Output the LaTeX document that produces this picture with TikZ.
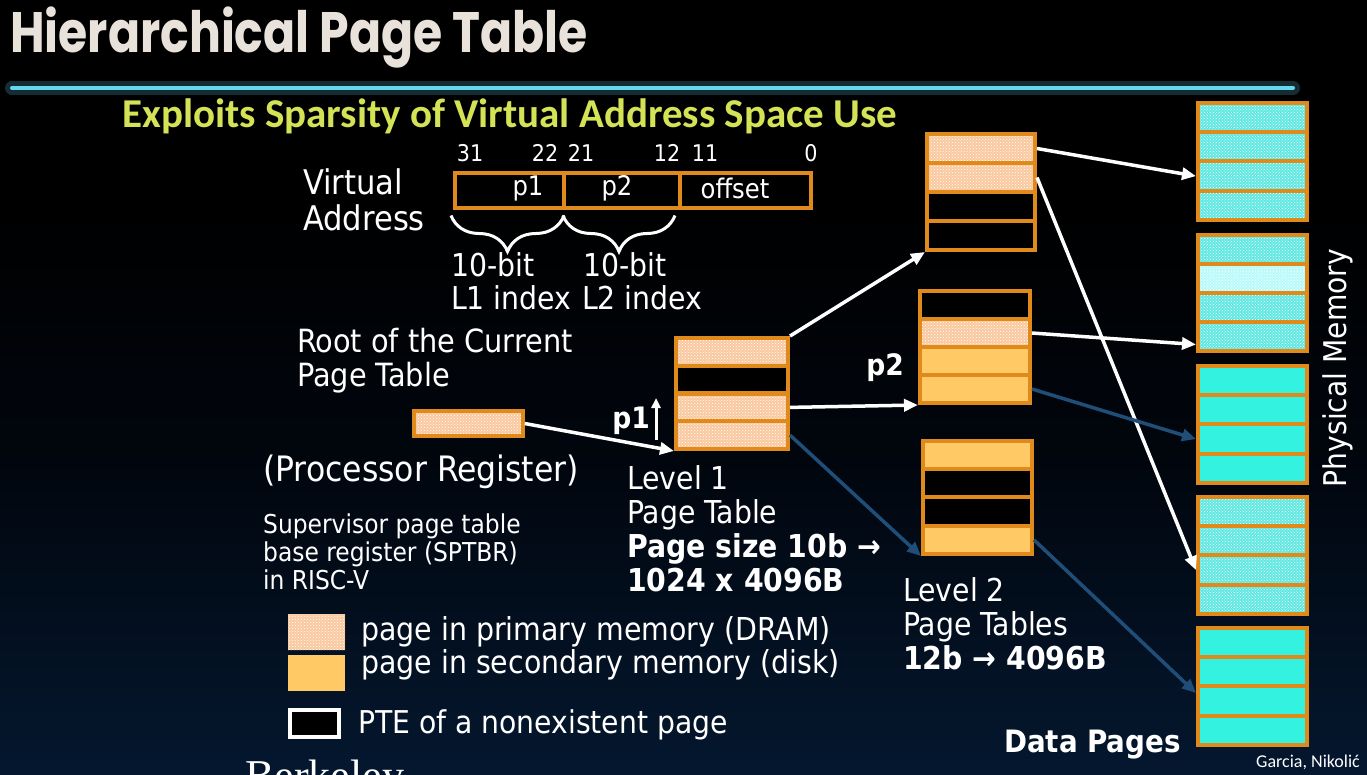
\documentclass[tikz,border=0pt]{standalone}
\usepackage{fontspec}
\setmainfont{DejaVu Sans Condensed}
\newfontfamily\titlefont{Poppins}[FakeStretch=0.83]
\newfontfamily\subfont{Carlito}
\newfontfamily\logofont{Liberation Serif}
\usetikzlibrary{arrows.meta,patterns,decorations.pathreplacing}

\newcommand\fsz[2]{\fontsize{#1}{#2}\selectfont}

\definecolor{navybot}{RGB}{11,46,86}
\definecolor{navymid}{RGB}{5,26,52}
\definecolor{navytop}{RGB}{1,6,14}
\definecolor{titlecol}{RGB}{232,226,218}
\definecolor{subcol}{RGB}{212,226,86}
\definecolor{rulecyan}{RGB}{100,216,240}
\definecolor{tborder}{RGB}{224,138,28}
\definecolor{dramcol}{RGB}{250,200,158}
\definecolor{diskcol}{RGB}{255,202,102}
\definecolor{pmcol}{RGB}{96,232,226}
\definecolor{pmlitecol}{RGB}{184,250,250}
\definecolor{pmsolidcol}{RGB}{52,242,224}
\definecolor{ptrblue}{RGB}{31,78,121}

\pgfdeclareverticalshading{slidebg}{100bp}{color(0bp)=(navybot); color(22bp)=(navymid); color(45bp)=(navytop); color(62bp)=(black); color(100bp)=(black)}

\tikzset{
  pte/.style={draw=tborder, line width=4, inner sep=0, minimum height=28},
  dram/.style={preaction={fill=dramcol}, pattern=crosshatch dots, pattern color=white},
  disk/.style={fill=diskcol},
  none/.style={fill=black},
  pmpat/.style={preaction={fill=pmcol}, pattern=crosshatch dots, pattern color=white},
  pmlite/.style={preaction={fill=pmlitecol}, pattern=crosshatch dots, pattern color=white},
  pmsolid/.style={fill=pmsolidcol},
  txt/.style={text=white, inner sep=0, anchor=west, align=left},
  bit/.style={text=white, inner sep=0, font={\fsz{23}{25}}},
  ptr/.style={white, line width=3.5, -{Triangle[length=14pt,width=12pt]}},
  diskptr/.style={ptrblue, line width=3.5, -{Triangle[length=14pt,width=12pt]}},
  bracket/.style={white, line width=3, decorate, decoration={brace, amplitude=36pt, mirror}}
}

\begin{document}
\begin{tikzpicture}[x=1pt,y=-1pt]
\useasboundingbox (0,0) rectangle (1367,774);
\clip (0,0) rectangle (1367,774);
\shade[shading=slidebg] (0,0) rectangle (1367,774);

% title
\node[anchor=base west, inner sep=0, text=titlecol, font={\titlefont\bfseries\fsz{57}{60}}] (title) at (10,52) {Hierarchical Page Table};
\draw[line width=14, rulecyan!35!black, line cap=round, opacity=.6] (12,88) -- (1293,88);
\draw[line width=4, rulecyan, line cap=round] (12,88) -- (1293,88);
\node[txt, text=subcol, font={\subfont\bfseries\fsz{41}{44}}] (subtitle) at (122,116) {Exploits Sparsity of Virtual Address Space Use};

% virtual address
\node[txt, font={\fsz{34}{36}}] (va) at (303,200) {Virtual\\Address};
\node[bit] (b31) at (470,153) {31};
\node[bit] (b22) at (545,153) {22};
\node[bit] (b21) at (581,153) {21};
\node[bit] (b12) at (667,153) {12};
\node[bit] (b11) at (705,153) {11};
\node[bit] (b0) at (811,153) {0};
\node[pte, minimum width=109, minimum height=35] (fp1) at (509.5,190) {};
\node[pte, minimum width=116, minimum height=35] (fp2) at (622,190) {};
\node[pte, minimum width=131, minimum height=35] (foff) at (745.5,190) {};
\node[text=white, font={\fsz{27}{29}}] (tp1) at (528,188) {p1};
\node[text=white, font={\fsz{27}{29}}] (tp2) at (617,188) {p2};
\node[text=white, font={\fsz{27}{29}}] (toff) at (735,188) {offset};
\draw[bracket] (fp1.south west) ++(-2,6) -- ++(113,0);
\draw[bracket] (fp2.south west) ++(1,6) -- ++(112,0);
\node[txt, font={\fsz{31.5}{34}}] (l1bits) at (451,265) {10-bit};
\node[txt, font={\fsz{31.5}{34}}] (l1idx) at (451,298) {L1 index};
\node[txt, font={\fsz{31.5}{34}}] (l2bits) at (583,265) {10-bit};
\node[txt, font={\fsz{31.5}{34}}] (l2idx) at (582,298) {L2 index};

% root register
\node[txt, font={\fsz{32}{34}}] (root) at (297,361) {Root of the Current\\Page Table};
\node[pte, dram, line width=3.5, minimum width=109, minimum height=25] (sptbr) at (468.5,423.5) {};
\node[txt, font={\fsz{35}{36}}] (procreg) at (263,472) {(Processor Register)};
\node[txt, font={\fsz{26}{28}}] (super) at (263,552) {Supervisor page table\\base register (SPTBR)\\in RISC-V};

% level 1 table
\node[pte, dram, minimum width=112, minimum height=27.75] (l1a) at (732,351.9) {};
\node[pte, none, minimum width=112, minimum height=27.75] (l1b) at (732,379.6) {};
\node[pte, dram, minimum width=112, minimum height=27.75] (l1c) at (732,407.4) {};
\node[pte, dram, minimum width=112, minimum height=27.75] (l1d) at (732,435.1) {};
\node[text=white, inner sep=0, font={\bfseries\fsz{29.5}{30}}] (p1) at (631,421) {p1};
\coordinate (p1lo) at (656,440);
\coordinate (p1hi) at (656,398);
\draw[white, line width=3, -{Triangle[length=10pt,width=9pt]}] (p1lo) -- (p1hi);
\node[txt, font={\fsz{31.5}{34}}] (l1txt) at (627,529) {Level 1\\Page Table\\\textbf{Page size 10b →}\\\textbf{1024 x 4096B}};

% level 2 tables
\node[pte, dram, minimum width=108, minimum height=29] (l2aA) at (981,148.5) {};
\node[pte, dram, minimum width=108, minimum height=29] (l2aB) at (981,177.5) {};
\node[pte, none, minimum width=108, minimum height=29] (l2aC) at (981,206.5) {};
\node[pte, none, minimum width=108, minimum height=29] (l2aD) at (981,235.5) {};

\node[pte, none, minimum width=110] (l2bA) at (975,305) {};
\node[pte, dram, minimum width=110] (l2bB) at (975,333) {};
\node[pte, disk, minimum width=110] (l2bC) at (975,361) {};
\node[pte, disk, minimum width=110] (l2bD) at (975,389) {};

\node[pte, disk, minimum width=109, minimum height=28.25] (l2cA) at (977.5,455.1) {};
\node[pte, none, minimum width=109, minimum height=28.25] (l2cB) at (977.5,483.4) {};
\node[pte, none, minimum width=109, minimum height=28.25] (l2cC) at (977.5,511.6) {};
\node[pte, disk, minimum width=109, minimum height=28.25] (l2cD) at (977.5,539.9) {};

\node[text=white, inner sep=0, font={\bfseries\fsz{29.5}{30}}] (p2) at (885,368) {p2};
\node[txt, font={\fsz{31.5}{34}}] (l2txt) at (903,624) {Level 2\\Page Tables\\\textbf{12b → 4096B}};

% physical memory
\node[pte, pmpat, minimum width=109, minimum height=29.25] (pm1A) at (1252.5,117.6) {};
\node[pte, pmpat, minimum width=109, minimum height=29.25] (pm1B) at (1252.5,146.9) {};
\node[pte, pmpat, minimum width=109, minimum height=29.25] (pm1C) at (1252.5,176.1) {};
\node[pte, pmpat, minimum width=109, minimum height=29.25] (pm1D) at (1252.5,205.4) {};

\node[pte, pmpat, minimum width=109, minimum height=29] (pm2A) at (1252.5,249.5) {};
\node[pte, pmlite, minimum width=109, minimum height=29] (pm2B) at (1252.5,278.5) {};
\node[pte, pmpat, minimum width=109, minimum height=29] (pm2C) at (1252.5,307.5) {};
\node[pte, pmpat, minimum width=109, minimum height=29] (pm2D) at (1252.5,336.5) {};

\node[pte, pmsolid, minimum width=109, minimum height=29.25] (pm3A) at (1252.5,380.6) {};
\node[pte, pmsolid, minimum width=109, minimum height=29.25] (pm3B) at (1252.5,409.9) {};
\node[pte, pmsolid, minimum width=109, minimum height=29.25] (pm3C) at (1252.5,439.1) {};
\node[pte, pmsolid, minimum width=109, minimum height=29.25] (pm3D) at (1252.5,468.4) {};

\node[pte, pmpat, minimum width=109, minimum height=29.25] (pm4A) at (1252.5,511.6) {};
\node[pte, pmpat, minimum width=109, minimum height=29.25] (pm4B) at (1252.5,540.9) {};
\node[pte, pmpat, minimum width=109, minimum height=29.25] (pm4C) at (1252.5,570.1) {};
\node[pte, pmpat, minimum width=109, minimum height=29.25] (pm4D) at (1252.5,599.4) {};

\node[pte, pmsolid, minimum width=109, minimum height=29.25] (pm5A) at (1252.5,642.6) {};
\node[pte, pmsolid, minimum width=109, minimum height=29.25] (pm5B) at (1252.5,671.9) {};
\node[pte, pmsolid, minimum width=109, minimum height=29.25] (pm5C) at (1252.5,701.1) {};
\node[pte, pmsolid, minimum width=109, minimum height=29.25] (pm5D) at (1252.5,730.4) {};

\node[text=white, rotate=90, font={\fsz{31.3}{32}}] (pmlbl) at (1338,368) {Physical Memory};
\node[txt, font={\bfseries\fsz{30.8}{32}}] (datapg) at (1004,745) {Data Pages};
\node[txt, font={\subfont\fsz{18}{20}}] (credit) at (1256,762) {Garcia, Nikolić};

% pointers
\draw[ptr] (sptbr.east) -- (l1d.south west);
\draw[ptr] (l1a.north east) -- (l2aD.south west);
\draw[ptr] (l1c.east) -- (l2bD.south west);
\draw[diskptr] (l1d.east) -- (l2cD.south west);
\draw[ptr] (l2aA.east) -- (pm1C.west);
\draw[ptr] (l2aB.east) -- (pm4C.west);
\draw[ptr] (l2bB.east) -- ([yshift=-8pt]pm2D.west);
\draw[diskptr] (l2bD.east) -- (pm3C.west);
\draw[diskptr] (l2cD.east) -- ([yshift=8pt]pm5C.west);

% legend
\node[inner sep=0, dram, minimum width=57, minimum height=36] (legdram) at (316.5,632) {};
\node[inner sep=0, disk, minimum width=57, minimum height=36] (legdisk) at (316.5,673) {};
\node[inner sep=0, none, draw=white, line width=4, minimum width=49, minimum height=27] (legnone) at (314.5,723.5) {};
\node[txt, font={\fsz{31.6}{32}}] (legdramtxt) at (361,632) {page in primary memory (DRAM)};
\node[txt, font={\fsz{31.6}{32}}] (legdisktxt) at (361,665) {page in secondary memory (disk)};
\node[txt, font={\fsz{31.4}{32}}] (legnonetxt) at (358,725) {PTE of a nonexistent page};

\node[anchor=base west, inner sep=0, text=white, font={\logofont\fsz{44}{48}}] (logo) at (245,790) {Berkeley};
\end{tikzpicture}
\end{document}
